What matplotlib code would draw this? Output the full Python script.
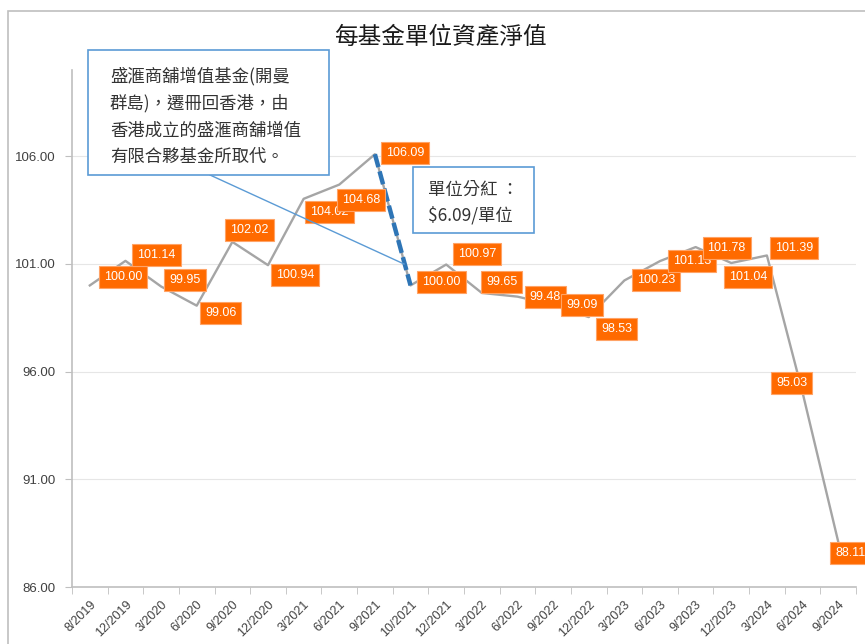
import matplotlib
matplotlib.use('Agg')
import matplotlib.pyplot as plt
from matplotlib.patches import Rectangle
from matplotlib.lines import Line2D

# data
dates = ['8/2019', '12/2019', '3/2020', '6/2020', '9/2020', '12/2020', '3/2021',
         '6/2021', '9/2021', '10/2021', '12/2021', '3/2022', '6/2022', '9/2022',
         '12/2022', '3/2023', '6/2023', '9/2023', '12/2023', '3/2024', '6/2024',
         '9/2024']
nav = [100.00, 101.14, 99.95, 99.06, 102.02, 100.94, 104.02, 104.68, 106.09,
       100.00, 100.97, 99.65, 99.48, 99.09, 98.53, 100.23, 101.13, 101.78,
       101.04, 101.39, 95.03, 88.11]
yticks = [86, 91, 96, 101, 106]
title = '每基金單位資產淨值'
note1 = ['盛滙商舖增值基金(開曼', '群島)，遷冊回香港，由', '香港成立的盛滙商舖增值', '有限合夥基金所取代。']
note2 = ['單位分紅 ：', '$6.09/單位']
div_from, div_to = 8, 9   # dividend drop between 9/2021 and 10/2021

# label offsets (pixels right, pixels down) from each point
offs = [(33, -8), (31, -6), (24, -6), (24, 7), (17, -12), (27, 10), (26, 13),
        (22, 15), (30, -1), (31, -3), (31, -11), (20, -11), (28, 0), (29, 0),
        (28, 12), (32, 0), (32, 0), (31, 1), (17, 14), (27, -7), (-11, -9),
        (12, 11)]

W, H = 865, 644
cjk = ['Noto Sans CJK TC', 'DejaVu Sans']
num = ['Liberation Sans', 'DejaVu Sans']


def fx(x):
    return x / W


def fy(y):
    return 1 - y / H


fig = plt.figure(figsize=(W / 100, H / 100), dpi=100)

# chart border
fig.patches.append(Rectangle((fx(8), fy(650)), fx(870) - fx(8), fy(11) - fy(650),
                             transform=fig.transFigure, fill=False,
                             ec='#BFBFBF', lw=1.2))

ax = fig.add_axes([fx(72), fy(587), fx(856) - fx(72), fy(70) - fy(587)])
x = list(range(len(dates)))
ax.plot(x, nav, color='#A5A5A5', lw=1.7, zorder=3)
ax.plot([div_from, div_to], [nav[div_from], nav[div_to]], color='#2E75B6',
        lw=3.2, linestyle=(0, (3.0, 1.0)), zorder=4)

for i, v in enumerate(nav):
    dx, dy = offs[i]
    ax.annotate(f'{v:.2f}', (i, v), xytext=(dx * 0.72, -dy * 0.72),
                textcoords='offset points', ha='center', va='center',
                color='white', fontsize=9, family=num, annotation_clip=False,
                zorder=5,
                bbox=dict(boxstyle='square,pad=0.4', fc='#FF6A00',
                          ec='#FFA366', lw=0.8))

ax.set_xlim(-0.5, len(dates) - 0.5)
ax.set_ylim(86, 110)
ax.set_yticks(yticks)
ax.set_yticklabels([f'{t:.2f}' for t in yticks], color='#404040', fontsize=9.5,
                   family=num)
ax.set_xticks(x)
ax.set_xticklabels(dates, rotation=45, ha='right', rotation_mode='anchor',
                   color='#404040', fontsize=9, family=num)
ax.set_xticks([i - 0.5 for i in range(len(dates) + 1)], minor=True)
ax.tick_params(axis='x', which='major', length=0, pad=8)
ax.tick_params(axis='x', which='minor', length=5, color='#BFBFBF')
ax.tick_params(axis='y', length=5, color='#BFBFBF', pad=7)
ax.grid(axis='y', color='#E6E6E6', lw=0.8)
ax.set_axisbelow(True)
for s in ['top', 'right']:
    ax.spines[s].set_visible(False)
for s in ['left', 'bottom']:
    ax.spines[s].set_color('#BFBFBF')
    ax.spines[s].set_linewidth(1.2)

fig.text(fx(440), fy(37), title, family=cjk, fontsize=17, ha='center',
         va='center', color='#1a1a1a')

# note boxes
fig.patches.append(Rectangle((fx(88), fy(175)), fx(329) - fx(88), fy(50) - fy(175),
                             transform=fig.transFigure, fc='white',
                             ec='#5B9BD5', lw=1.2, zorder=6))
for k, line in enumerate(note1):
    fig.text(fx(110), fy(76 + 27 * k), line, family=cjk, fontsize=12.5,
             va='center', ha='left', color='#333333', zorder=7)
fig.lines.append(Line2D([fx(210), fx(404)], [fy(175), fy(264)],
                        transform=fig.transFigure, color='#5B9BD5', lw=1,
                        zorder=5))

fig.patches.append(Rectangle((fx(413), fy(233)), fx(534) - fx(413), fy(167) - fy(233),
                             transform=fig.transFigure, fc='white',
                             ec='#5B9BD5', lw=1.2, zorder=6))
for k, line in enumerate(note2):
    fig.text(fx(428), fy(190 + 25 * k), line, family=cjk, fontsize=12.5,
             va='center', ha='left', color='#333333', zorder=7)

fig.savefig('out.png', dpi=100)
